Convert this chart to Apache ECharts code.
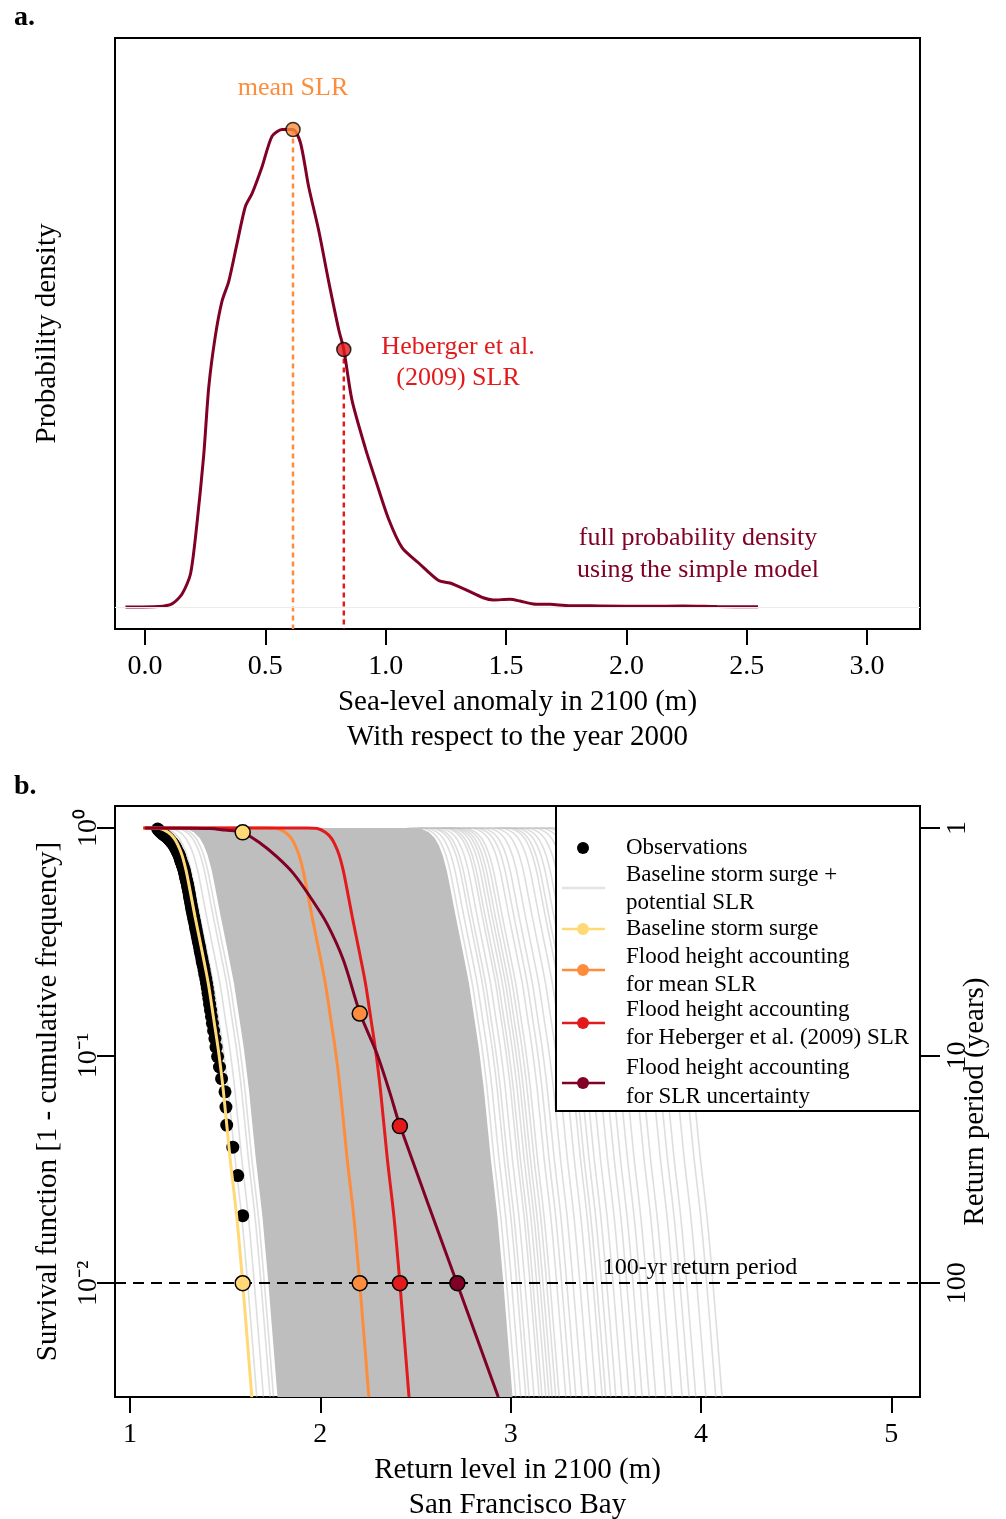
<!DOCTYPE html>
<html>
<head>
<meta charset="utf-8">
<title>Sea-level rise and flood return levels - San Francisco Bay</title>
<script src="https://cdn.jsdelivr.net/npm/echarts@6.0.0/dist/echarts.min.js"></script>
<style>
  html, body { margin: 0; padding: 0; background: #fff; }
  #chart { width: 1006px; height: 1519px; }
</style>
</head>
<body>
<div id="chart"></div>
<script>
var FONT = '"Liberation Serif", "Times New Roman", Times, serif';
var YELLOW = '#FED976', ORANGE = '#FD8D3C', RED = '#E31A1C', DARK = '#800026';

// ---- panel a: probability density of sea-level anomaly in 2100 ----
var slrLevel = [-0.081, 0.057, 0.112, 0.154, 0.189, 0.216, 0.244, 0.265, 0.292, 0.320, 0.348, 0.382,
  0.417, 0.445, 0.486, 0.528, 0.569, 0.615, 0.646, 0.680, 0.722, 0.763, 0.805, 0.826, 0.860, 0.916,
  0.957, 1.012, 1.068, 1.137, 1.220, 1.267, 1.336, 1.405, 1.447, 1.516, 1.558, 1.613, 1.683, 1.766,
  1.890, 2.098, 2.235, 2.376, 2.547];
var slrDensity = [0, 0.002, 0.014, 0.059, 0.15, 0.38, 0.69, 1.0, 1.23, 1.39, 1.48, 1.65,
  1.82, 1.88, 2.0, 2.14, 2.17, 2.17, 2.11, 1.91, 1.71, 1.48, 1.26, 1.17, 0.94, 0.72,
  0.58, 0.40, 0.27, 0.20, 0.12, 0.109, 0.077, 0.042, 0.032, 0.035, 0.027, 0.014, 0.012, 0.006,
  0.005, 0.003, 0.004, 0.002, 0.001];
var meanSlr = 0.615, meanSlrDensity = 2.17;
var hebergerSlr = 0.826, hebergerDensity = 1.17;
var slrTicks = [0, 0.5, 1, 1.5, 2, 2.5, 3];

// ---- panel b: survival function of flood height ----
var curveStart = 1.07;
var baseLevel = [1.07, 1.105, 1.158, 1.200, 1.231, 1.252, 1.273, 1.294, 1.310, 1.342, 1.377, 1.411,
  1.438, 1.464, 1.490, 1.525, 1.561, 1.592, 1.640];
var baseSurv = [1, 1, 0.995, 0.959, 0.904, 0.841, 0.760, 0.653, 0.561, 0.406, 0.291, 0.208,
  0.148, 0.106, 0.0705, 0.0358, 0.0195, 0.0100, 0.00316];
var uncLevel = [1.08, 1.420, 1.499, 1.590, 1.683, 1.771, 1.858, 1.946, 2.034, 2.121, 2.209, 2.296,
  2.366, 2.419, 2.720, 2.935];
var uncSurv = [1, 0.995, 0.979, 0.957, 0.859, 0.748, 0.632, 0.499, 0.381, 0.263, 0.153, 0.1026,
  0.0684, 0.049, 0.0099, 0.00316];
// shifts (m of SLR) of the ensemble members: solid band and single light lines
var denseShift = [0.135, 1.37];
var ensembleShift = [0.026, 0.061, 0.096, 0.114, 1.387, 1.413, 1.44, 1.457, 1.483, 1.51, 1.525,
  1.545, 1.562, 1.578, 1.597, 1.615, 1.65, 1.676, 1.703, 1.736, 1.772, 1.808, 1.841, 1.86, 1.886,
  1.913, 1.946, 1.983, 2.018, 2.051, 2.088, 2.123, 2.175, 2.209, 2.261, 2.298, 2.333, 2.386, 2.438, 2.471];
var obsLevel = [1.145, 1.150, 1.155, 1.160, 1.166, 1.172, 1.181, 1.188, 1.194, 1.201, 1.206, 1.211,
  1.216, 1.221, 1.226, 1.231, 1.234, 1.238, 1.241, 1.244, 1.247, 1.251, 1.254, 1.257, 1.260, 1.262,
  1.264, 1.266, 1.268, 1.271, 1.274, 1.276, 1.279, 1.281, 1.284, 1.286, 1.287, 1.290, 1.291, 1.293,
  1.295, 1.297, 1.300, 1.302, 1.303, 1.305, 1.307, 1.309, 1.311, 1.312, 1.314, 1.316, 1.318, 1.320,
  1.322, 1.324, 1.326, 1.329, 1.331, 1.334, 1.336, 1.339, 1.342, 1.344, 1.347, 1.350, 1.353, 1.356,
  1.359, 1.363, 1.366, 1.369, 1.373, 1.377, 1.380, 1.385, 1.389, 1.393, 1.398, 1.402, 1.406, 1.410,
  1.414, 1.418, 1.423, 1.428, 1.433, 1.439, 1.446, 1.452, 1.460, 1.470, 1.481, 1.499, 1.504, 1.508,
  1.540, 1.566, 1.592, 1.595];
var obsSurv = [0.9901, 0.9802, 0.9703, 0.9604, 0.9505, 0.9406, 0.9307, 0.9208, 0.9109, 0.9010,
  0.8911, 0.8812, 0.8713, 0.8614, 0.8515, 0.8416, 0.8317, 0.8218, 0.8119, 0.8020, 0.7921, 0.7822,
  0.7723, 0.7624, 0.7525, 0.7426, 0.7327, 0.7228, 0.7129, 0.7030, 0.6931, 0.6832, 0.6733, 0.6634,
  0.6535, 0.6436, 0.6337, 0.6238, 0.6139, 0.6040, 0.5941, 0.5842, 0.5743, 0.5644, 0.5545, 0.5446,
  0.5347, 0.5248, 0.5149, 0.5050, 0.4950, 0.4851, 0.4752, 0.4653, 0.4554, 0.4455, 0.4356, 0.4257,
  0.4158, 0.4059, 0.3960, 0.3861, 0.3762, 0.3663, 0.3564, 0.3465, 0.3366, 0.3267, 0.3168, 0.3069,
  0.2970, 0.2871, 0.2772, 0.2673, 0.2574, 0.2475, 0.2376, 0.2277, 0.2178, 0.2079, 0.1980, 0.1881,
  0.1782, 0.1683, 0.1584, 0.1485, 0.1386, 0.1287, 0.1188, 0.1089, 0.0990, 0.0891, 0.0792, 0.0693,
  0.0594, 0.0495, 0.0396, 0.0297, 0.0198, 0.0099];
var surv100 = 0.01;
var rl100Level = [1.592, 2.207, 2.418, 2.720];
var uncMarkLevel = [1.592, 2.207, 2.418];
var uncMarkSurv = [0.957, 0.153, 0.049];
var levelTicks = [1, 2, 3, 4, 5];
var survTicks = [0.01, 0.1, 1];
var returnPeriods = [100, 10, 1];

var lg = Math.log10;
var SUP = { '-': '\u207B', '0': '\u2070', '1': '\u00B9', '2': '\u00B2' };

function survLine(levels, survs, shift) {
  return levels.map(function (l, i) { return [l + (shift || 0), lg(survs[i])]; });
}
function shiftedCurve(shift) {
  return [[curveStart, 0]].concat(survLine(baseLevel, baseSurv, shift));
}
function txt(x, y, text, color, size, align, weight) {
  return {
    type: 'text', x: x, y: y, z: 100, silent: true,
    style: { text: text, fill: color || '#000', font: (weight || 'normal') + ' ' + (size || 26) + 'px ' + FONT,
      align: align || 'center', verticalAlign: 'middle' }
  };
}

var chart = echarts.init(document.getElementById('chart'));

var axisTxt = { color: '#000', fontFamily: FONT, fontSize: 28 };
var nameTxt = { color: '#000', fontFamily: FONT, fontSize: 29, lineHeight: 35 };
var tickStyle = { color: '#000', width: 2 };
var noLine = { show: false, onZero: false };

var series = [];

// panel a
series.push({
  type: 'line', xAxisIndex: 0, yAxisIndex: 0, z: 3,
  data: slrLevel.map(function (l, i) { return [l, slrDensity[i]]; }),
  smooth: 0.25, showSymbol: false, lineStyle: { color: DARK, width: 3 },
  markLine: { silent: true, symbol: 'none', label: { show: false },
    lineStyle: { color: '#ececec', width: 1, type: 'solid' }, data: [{ yAxis: 0 }] }
});
series.push({
  type: 'line', xAxisIndex: 0, yAxisIndex: 0, z: 2, showSymbol: false,
  data: [[meanSlr, meanSlrDensity], [meanSlr, -0.1]],
  lineStyle: { color: ORANGE, width: 2.5, type: [5, 4] }
});
series.push({
  type: 'line', xAxisIndex: 0, yAxisIndex: 0, z: 2, showSymbol: false,
  data: [[hebergerSlr, hebergerDensity], [hebergerSlr, -0.1]],
  lineStyle: { color: RED, width: 2.5, type: [5, 4] }
});
series.push({
  type: 'scatter', xAxisIndex: 0, yAxisIndex: 0, z: 5, symbolSize: 14,
  itemStyle: { borderColor: '#000', borderWidth: 1.5 },
  data: [
    { value: [meanSlr, meanSlrDensity], itemStyle: { color: ORANGE } },
    { value: [hebergerSlr, hebergerDensity], itemStyle: { color: RED } }
  ]
});

// panel b: dense part of the ensemble as a band
series.push({
  type: 'custom', xAxisIndex: 1, yAxisIndex: 1, z: 1, clip: true, silent: true,
  data: [[baseLevel[0], 0]],
  renderItem: function (params, api) {
    var pts = [];
    survLine(baseLevel, baseSurv, denseShift[0]).forEach(function (p) { pts.push(api.coord(p)); });
    survLine(baseLevel, baseSurv, denseShift[1]).reverse().forEach(function (p) { pts.push(api.coord(p)); });
    return { type: 'polygon', shape: { points: pts }, style: { fill: '#bebebe' } };
  }
});
ensembleShift.forEach(function (s) {
  series.push({
    type: 'line', xAxisIndex: 1, yAxisIndex: 1, z: 2, silent: true, showSymbol: false,
    smooth: 0.3, data: survLine(baseLevel, baseSurv, s),
    lineStyle: { color: 'rgba(190,190,190,0.5)', width: 1.6 }
  });
});
series.push({
  type: 'scatter', xAxisIndex: 1, yAxisIndex: 1, z: 3, symbolSize: 13,
  itemStyle: { color: '#000', opacity: 1 }, data: survLine(obsLevel, obsSurv)
});
series.push({
  type: 'line', xAxisIndex: 1, yAxisIndex: 1, z: 4, showSymbol: false, smooth: 0.3,
  data: shiftedCurve(0), lineStyle: { color: YELLOW, width: 3 }
});
series.push({
  type: 'line', xAxisIndex: 1, yAxisIndex: 1, z: 5, showSymbol: false, smooth: 0.3,
  data: shiftedCurve(meanSlr), lineStyle: { color: ORANGE, width: 3 }
});
series.push({
  type: 'line', xAxisIndex: 1, yAxisIndex: 1, z: 6, showSymbol: false, smooth: 0.3,
  data: shiftedCurve(hebergerSlr), lineStyle: { color: RED, width: 3 }
});
series.push({
  type: 'line', xAxisIndex: 1, yAxisIndex: 1, z: 7, showSymbol: false, smooth: 0.3,
  data: survLine(uncLevel, uncSurv), lineStyle: { color: DARK, width: 3 }
});
series.push({
  type: 'line', xAxisIndex: 1, yAxisIndex: 1, z: 8, data: [],
  markLine: { silent: true, symbol: 'none', label: { show: false },
    lineStyle: { color: '#000', width: 2, type: [11, 7] }, data: [{ yAxis: lg(surv100) }] }
});
var markColors = [YELLOW, ORANGE, RED, DARK];
series.push({
  type: 'scatter', xAxisIndex: 1, yAxisIndex: 1, z: 9, symbolSize: 15,
  itemStyle: { borderColor: '#000', borderWidth: 1.5, opacity: 1 },
  data: rl100Level.map(function (l, i) {
    return { value: [l, lg(surv100)], itemStyle: { color: markColors[i] } };
  }).concat(uncMarkLevel.map(function (l, i) {
    return { value: [l, lg(uncMarkSurv[i])], itemStyle: { color: markColors[i] } };
  }))
});

// legend of panel b, drawn by hand to match the boxed R legend
var legendItems = [
  { y: 848, dot: '#000', line: null },
  { y: 888, dot: null, line: '#e3e3e3' },
  { y: 929, dot: YELLOW, line: YELLOW },
  { y: 970, dot: ORANGE, line: ORANGE },
  { y: 1023, dot: RED, line: RED },
  { y: 1083, dot: DARK, line: DARK }
];
var legendText = [
  ['Observations', 848], ['Baseline storm surge +', 875], ['potential SLR', 903],
  ['Baseline storm surge', 929], ['Flood height accounting', 957], ['for mean SLR', 985],
  ['Flood height accounting', 1010], ['for Heberger et al. (2009) SLR', 1038],
  ['Flood height accounting', 1068], ['for SLR uncertainty', 1097]
];
var graphics = [
  { type: 'rect', z: 99, silent: true, shape: { x: 556, y: 806, width: 364, height: 305 },
    style: { fill: '#fff', stroke: '#000', lineWidth: 2 } }
];
legendItems.forEach(function (it) {
  if (it.line) graphics.push({ type: 'line', z: 100, silent: true,
    shape: { x1: 562, y1: it.y, x2: 605, y2: it.y }, style: { stroke: it.line, lineWidth: 2.5 } });
  if (it.dot) graphics.push({ type: 'circle', z: 101, silent: true,
    shape: { cx: 583, cy: it.y, r: 6 }, style: { fill: it.dot } });
});
legendText.forEach(function (t) { graphics.push(txt(626, t[1], t[0], '#000', 23, 'left')); });
graphics.push(
  txt(14, 18, 'a.', '#000', 28, 'left', 'bold'),
  txt(14, 787, 'b.', '#000', 28, 'left', 'bold'),
  txt(293, 88, 'mean SLR', ORANGE, 26),
  txt(458, 347, 'Heberger et al.', RED, 26),
  txt(458, 378, '(2009) SLR', RED, 26),
  txt(698, 538, 'full probability density', DARK, 26),
  txt(698, 570, 'using the simple model', DARK, 26),
  txt(700, 1268, '100-yr return period', '#000', 24)
);

var gridBase = { show: true, borderColor: '#000', borderWidth: 2, backgroundColor: 'transparent',
  containLabel: false, outerBoundsMode: 'none' };

var option = {
  animation: false,
  backgroundColor: '#fff',
  grid: [
    Object.assign({ left: 115, top: 38, width: 805, height: 591 }, gridBase),
    Object.assign({ left: 115, top: 806, width: 805, height: 591 }, gridBase)
  ],
  xAxis: [
    {
      type: 'value', gridIndex: 0, min: -0.1246, max: 3.2198,
      axisLine: noLine, splitLine: { show: false },
      axisTick: { show: true, length: 16, lineStyle: tickStyle, customValues: slrTicks },
      axisLabel: Object.assign({ customValues: slrTicks, margin: 24,
        formatter: function (v) { return v.toFixed(1); } }, axisTxt),
      name: 'Sea-level anomaly in 2100 (m)\nWith respect to the year 2000',
      nameLocation: 'middle', nameGap: 56, nameTextStyle: nameTxt
    },
    {
      type: 'value', gridIndex: 1, min: 0.921, max: 5.151,
      axisLine: noLine, splitLine: { show: false },
      axisTick: { show: true, length: 16, lineStyle: tickStyle, customValues: levelTicks },
      axisLabel: Object.assign({ customValues: levelTicks, margin: 24 }, axisTxt),
      name: 'Return level in 2100 (m)\nSan Francisco Bay',
      nameLocation: 'middle', nameGap: 56, nameTextStyle: nameTxt
    }
  ],
  yAxis: [
    {
      type: 'value', gridIndex: 0, min: -0.1, max: 2.586,
      axisLine: noLine, axisTick: { show: false }, axisLabel: { show: false }, splitLine: { show: false },
      name: 'Probability density', nameLocation: 'middle', nameGap: 50, nameMoveOverlap: false,
      nameTextStyle: nameTxt
    },
    {
      type: 'value', gridIndex: 1, min: -2.5, max: 0.0967,
      axisLine: noLine, splitLine: { show: false },
      axisTick: { show: true, length: 18, lineStyle: tickStyle, customValues: survTicks.map(lg) },
      axisLabel: Object.assign({ customValues: survTicks.map(lg), rotate: 90, margin: 12,
        formatter: function (v) {
          return '10' + String(Math.round(v)).split('').map(function (c) { return SUP[c]; }).join('');
        } }, axisTxt),
      name: 'Survival function [1 - cumulative frequency]', nameLocation: 'middle', nameGap: 49,
      nameMoveOverlap: false, nameTextStyle: nameTxt
    },
    {
      type: 'value', gridIndex: 1, position: 'right', min: -2.5, max: 0.0967,
      axisLine: noLine, splitLine: { show: false },
      axisTick: { show: true, length: 20, lineStyle: tickStyle, customValues: survTicks.map(lg) },
      axisLabel: Object.assign({ customValues: survTicks.map(lg), rotate: 90, margin: 24,
        formatter: function (v) {
          var i = survTicks.map(lg).indexOf(v);
          return i >= 0 ? String(returnPeriods[i]) : String(Math.round(Math.pow(10, -v)));
        } }, axisTxt),
      name: 'Return period (years)', nameLocation: 'middle', nameGap: 38, nameMoveOverlap: false,
      nameTextStyle: nameTxt
    }
  ],
  graphic: graphics,
  series: series
};
chart.setOption(option);
</script>
</body>
</html>
